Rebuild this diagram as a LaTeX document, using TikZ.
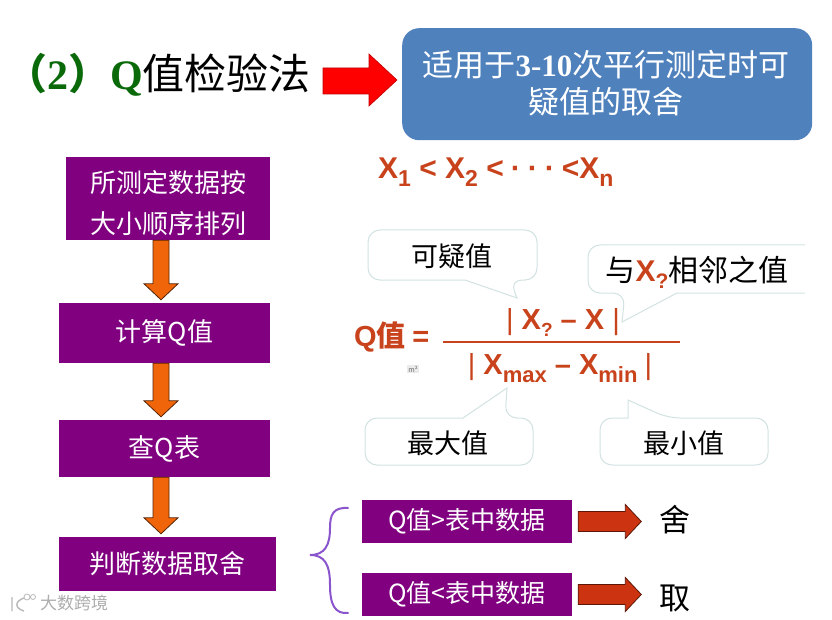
\documentclass[tikz,border=0pt]{standalone}
\usetikzlibrary{calc}
\usepackage{fontspec}
\setmainfont{Noto Sans CJK SC}
\newfontfamily\cjkf{Noto Sans CJK SC}
\newfontfamily\arialf{Liberation Sans}
\newfontfamily\timesf{Liberation Serif}
\newcommand{\fs}[1]{\fontsize{#1}{#1}\selectfont}
\definecolor{purpbox}{HTML}{800080}
\definecolor{orangearrow}{HTML}{F0640A}
\definecolor{redbrown}{HTML}{CC3311}
\definecolor{formula}{HTML}{C8431C}
\definecolor{bluebox}{HTML}{4F81BD}
\definecolor{titlegreen}{HTML}{0A6A0A}
\definecolor{bracecol}{HTML}{8A55CC}
\definecolor{calloutline}{HTML}{D2E2E2}
\tikzset{
  x=1pt,y=-1pt,
  purplebox/.style={fill=purpbox,text=white,inner sep=0pt,align=center,anchor=center},
  calloutshape/.style={draw=calloutline,line width=1pt,fill=white},
  calltext/.style={text=black,inner sep=0pt,font=\fs{27}},
  formulatext/.style={text=formula,inner sep=0pt,font=\arialf\bfseries\fs{29}},
}
\newcommand{\downblock}[3]{% x, from, to
  \draw[draw=black!65!orangearrow,fill=orangearrow,line width=.8pt]
    let \p1=(#2.south), \p2=(#3.north) in
    (#1-8,\y1) -- (#1+8,\y1) -- (#1+8,\y2+19) -- (#1+17,\y2+19) -- (#1,\y2+3) -- (#1-17,\y2+19) -- (#1-8,\y2+19) -- cycle;}
\newcommand{\rightblock}[2]{% from node, to node
  \draw[draw=black!55!redbrown,fill=redbrown,line width=.8pt]
    let \p1=(#1.east), \p2=(#2.west) in
    (\x1+6,\y1+10) -- (\x2-34,\y1+10) -- (\x2-34,\y1+17) -- (\x2-18,\y1) -- (\x2-34,\y1-17) -- (\x2-34,\y1-10) -- (\x1+6,\y1-10) -- cycle;}
\begin{document}
\begin{tikzpicture}
\useasboundingbox (0,0) rectangle (832,620);
\fill[white] (0,0) rectangle (832,620);

% title
\node[anchor=west,inner sep=0pt] (title) at (5,75) {\fs{42}\bfseries\textcolor{titlegreen}{（\timesf 2\cjkf）\timesf Q}\mdseries\cjkf 值检验法};
\node[draw=none,fill=bluebox,rounded corners=17pt,minimum width=410pt,minimum height=112pt,inner sep=0pt,anchor=north west] (note) at (402,28) {};
\node[text=white,align=center,inner sep=0pt,font=\fs{31}] (notetext) at (606,83) {适用于{\timesf\bfseries 3-10}次平行测定时可\\[6pt]疑值的取舍};
\draw[fill=red,draw=red!75!black,line width=.6pt]
  let \p1=(note.west) in (323,68) -- (369,68) -- (369,54) -- (\x1-5,80) -- (369,106) -- (369,94) -- (323,94) -- cycle;

% flow boxes
\node[purplebox,minimum width=204pt,minimum height=83pt,font=\fs{26}] (b1) at (168,198.5) {\rule{0pt}{31pt}所测定数据按\\[15pt]大小顺序排列};
\node[purplebox,minimum width=211pt,minimum height=60pt,font=\fs{26}] (b2) at (164.5,333) {计算Q值};
\node[purplebox,minimum width=211pt,minimum height=57pt,font=\fs{26}] (b3) at (164.5,448.5) {查Q表};
\node[purplebox,minimum width=217pt,minimum height=54pt,font=\fs{26}] (b4) at (167.5,564) {判断数据取舍};
\downblock{161}{b1}{b2}
\downblock{161}{b2}{b3}
\downblock{161}{b3}{b4}

% decision boxes
\node[purplebox,minimum width=210pt,minimum height=43pt,font=\fs{25}] (c1) at (467,521.5) {\raisebox{-1.5pt}{Q值>表中数据}};
\node[purplebox,minimum width=210pt,minimum height=43pt,font=\fs{25}] (c2) at (467,594.5) {\raisebox{-1.5pt}{Q值<表中数据}};
\node[inner sep=0pt,font=\fs{31}] (she) at (675,520) {舍};
\node[inner sep=0pt,font=\fs{31}] (qu) at (675,598) {取};
\rightblock{c1}{she}
\rightblock{c2}{qu}
\coordinate (bracetip) at (310,555);
\draw[bracecol,line width=2pt,line cap=round]
  (348,508) .. controls (333,507) and (330,515) .. (330,528)
  .. controls (330,545) and (325,555) .. (bracetip)
  .. controls (325,555) and (330,565) .. (330,585)
  .. controls (330,605) and (335,614) .. (348,613);

% X1<X2...
\node[formulatext,anchor=west,font=\arialf\bfseries\fs{30}] (order) at (378,172)
  {X\raisebox{-8pt}{\fs{23}1} < X\raisebox{-8pt}{\fs{23}2} <\hspace{7pt}·\hspace{7pt}·\hspace{7pt}·\hspace{7pt}<X\raisebox{-8pt}{\fs{23}n}};

% callouts
\draw[calloutshape] (465,280) [rounded corners=12pt] -- (368,280) -- (368,230) -- (537,230) -- (537,280) -- (510,280) [sharp corners] -- (517,298) -- cycle;
\node[calltext] (cq1) at (452,256) {可疑值};
\draw[calloutshape] (805,245) [rounded corners=12pt] -- (588,245) -- (588,293) -- (625,293) [sharp corners] -- (622,322) -- (677,293) -- (805,293);
\node[calltext,anchor=center,font=\fs{30}] (cq2) at (697,272) {与\textcolor{formula}{\arialf\bfseries X\raisebox{-7pt}{\fs{21}?}}相邻之值};
\draw[calloutshape] (463,418) [rounded corners=12pt] -- (365,418) -- (365,465) -- (533,465) -- (533,418) -- (505,418) [sharp corners] -- (507,388) -- cycle;
\node[calltext] (cq3) at (448,443) {最大值};
\draw[calloutshape] (628,418) [rounded corners=12pt] -- (600,418) -- (600,465) -- (768,465) -- (768,418) -- (668,418) [sharp corners] -- (628,400) -- cycle;
\node[calltext] (cq4) at (684,443) {最小值};

% formula
\node[text=formula,inner sep=0pt,anchor=west] (q) at (354,337) {\bfseries\fs{29}{\arialf Q}值 {\arialf =}};
\coordinate (fl) at (443,342);
\coordinate (fr) at (680,342);
\draw[formula,line width=1.6pt] (fl) -- (fr);
\node[formulatext] (num) at (563,322) {{\mdseries |} X\raisebox{-7pt}{\fs{19}?} – X {\mdseries |}};
\node[formulatext] (den) at (560,368) {{\mdseries |} X\raisebox{-8pt}{\fs{22}max} – X\raisebox{-8pt}{\fs{22}min}\hspace{-1pt} {\mdseries |}};
\node[fill=black!8,text=black!60,inner sep=1pt,font=\fs{7}] (mk) at (413,369) {m²};

% watermark
\draw[black!28,line width=1.4pt] (12,597) -- (12,611) (24,598) .. controls (15,601) and (14,608) .. (24,611);
\draw[black!28,line width=.8pt] (27,597) circle (3pt) (33,597) circle (2.5pt);
\node[text=black!32,inner sep=0pt,anchor=west,font=\fs{17}] (wm) at (40,603) {大数跨境};
\end{tikzpicture}
\end{document}
